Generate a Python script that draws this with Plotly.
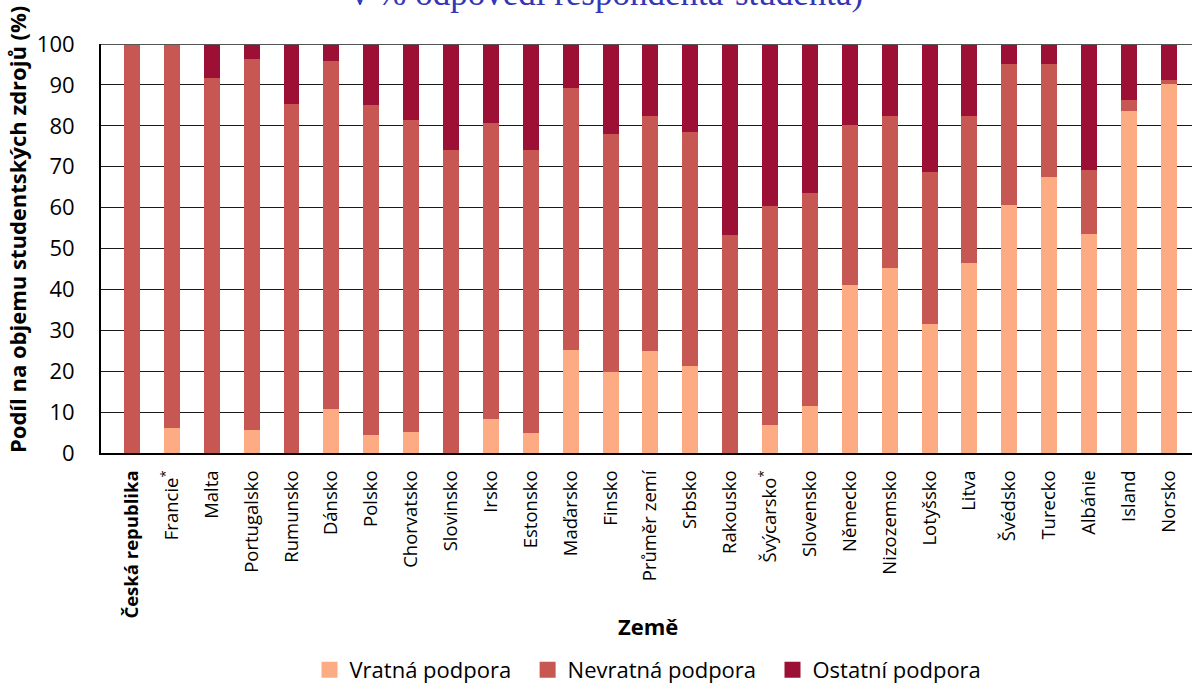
import plotly.graph_objects as go

countries = ["<b>Česká republika</b>", "Francie<sup>*</sup>", "Malta", "Portugalsko", "Rumunsko",
             "Dánsko", "Polsko", "Chorvatsko", "Slovinsko", "Irsko", "Estonsko", "Maďarsko",
             "Finsko", "Průměr zemí", "Srbsko", "Rakousko", "Švýcarsko<sup>*</sup>", "Slovensko",
             "Německo", "Nizozemsko", "Lotyšsko", "Litva", "Švédsko", "Turecko", "Albánie",
             "Island", "Norsko"]

vratna = [0, 6.2, 0, 5.7, 0, 10.8, 4.5, 5.2, 0, 8.4, 5.0, 25.2,
          19.7, 25.0, 21.3, 0, 6.9, 11.5, 41.1, 45.2, 31.5, 46.4, 60.6, 67.6, 53.5, 83.7, 90.1]
nevratna = [100, 93.8, 91.8, 90.7, 85.4, 85.1, 80.5, 76.3, 74.0, 72.4, 69.0, 64.1,
            58.2, 57.3, 57.1, 53.3, 53.4, 52.0, 39.2, 37.1, 37.1, 35.9, 34.6, 27.6, 15.8, 2.5, 1.2]
ostatni = [0, 0, 8.2, 3.6, 14.6, 4.1, 15.0, 18.5, 26.0, 19.2, 26.0, 10.7,
           22.1, 17.7, 21.6, 46.7, 39.7, 36.5, 19.7, 17.7, 31.4, 17.7, 4.8, 4.8, 30.7, 13.8, 8.7]

series_names = ["Vratná podpora", "Nevratná podpora", "Ostatní podpora"]
series_colors = ["#FDAB82", "#C65752", "#9B1034"]

x_idx = list(range(len(countries)))

fig = go.Figure()
for name, vals, col in zip(series_names, [vratna, nevratna, ostatni], series_colors):
    fig.add_trace(go.Bar(x=x_idx, y=vals, name=name, marker=dict(color=col, line=dict(width=0)),
                         width=0.4, showlegend=False))
# legend entries with larger square symbols
for i, (name, col) in enumerate(zip(series_names, series_colors)):
    label = name + ("\u00a0\u00a0" if i < len(series_names) - 1 else "")
    fig.add_trace(go.Scatter(x=[None], y=[None], mode="markers", name=label,
                             marker=dict(symbol="square", size=16, color=col), showlegend=True))

FONT = "Open Sans"
PLOT_L, PLOT_R = 101, 1192
PW = PLOT_R - PLOT_L
PH = 409
fig.update_layout(
    barmode="stack",
    width=1192, height=684,
    margin=dict(l=101, r=0, t=44, b=231, autoexpand=False),
    paper_bgcolor="white", plot_bgcolor="white",
    font=dict(family=FONT, color="black"),
    showlegend=True,
    legend=dict(orientation="h", x=(648 - PLOT_L) / PW, xanchor="center", y=(453 - 670) / PH,
                yanchor="middle", font=dict(size=22, family=FONT), traceorder="normal",
                itemwidth=30, bgcolor="rgba(0,0,0,0)"),
    xaxis=dict(range=[-0.777, 26.58], tickmode="array", tickvals=x_idx, ticktext=countries,
               tickangle=-90, tickfont=dict(size=18.5, family=FONT), showgrid=False,
               showline=True, linecolor="black", linewidth=2, ticks="outside", ticklen=8,
               tickcolor="rgba(0,0,0,0)", zeroline=False, fixedrange=True, automargin=False),
    yaxis=dict(range=[0, 100], tickvals=list(range(0, 101, 10)), tickfont=dict(size=22, family=FONT),
               showgrid=True, gridcolor="#1a1a1a", gridwidth=1, showline=True, linecolor="black",
               linewidth=2, zeroline=False, ticks="outside", ticklen=20, tickcolor="rgba(0,0,0,0)",
               automargin=False),
    annotations=[
        dict(text="<b>Podíl na objemu studentských zdrojů (%)</b>", textangle=-90,
             x=(17 - PLOT_L) / PW, xref="paper", y=(453 - 230) / PH, yref="paper",
             xanchor="center", yanchor="middle", showarrow=False, font=dict(size=22, family=FONT)),
        dict(text="<b>Země</b>", x=(648 - PLOT_L) / PW, xref="paper", y=(453 - 626) / PH, yref="paper",
             xanchor="center", yanchor="middle", showarrow=False, font=dict(size=22, family=FONT)),
        dict(text="v % odpovědí respondenta-studenta)", x=(607 - PLOT_L) / PW, xref="paper",
             y=1 + (44 - 15) / PH, yref="paper", xanchor="center", yanchor="bottom", showarrow=False,
             font=dict(size=35, family="Liberation Serif", color="#3535B8")),
    ],
)
fig.add_shape(type="line", xref="paper", yref="y", x0=0, x1=1, y0=100, y1=100,
              line=dict(color="#555", width=2))

fig.write_html("out.html", config={"displayModeBar": False},
               post_script="document.body.style.margin='0';document.body.style.overflow='hidden';")
